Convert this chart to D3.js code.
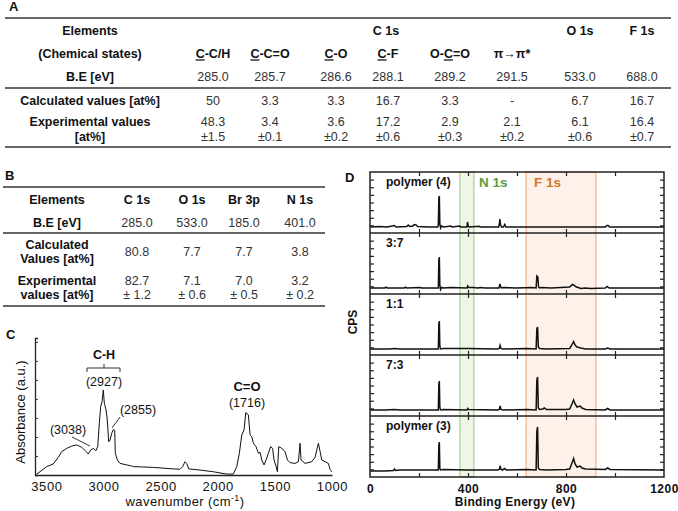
<html>
<head>
<script src="https://d3js.org/d3.v7.min.js"></script>
<style>
  body { margin: 0; background: #fff; }
  svg text { font-family: "Liberation Sans", Arial, sans-serif; fill: #111; }
  .hd { font-weight: bold; }
  .val { fill: #333; }
  .rule { stroke: #666; stroke-width: 1.8; }
</style>
</head>
<body>
<svg id="fig" width="678" height="511"></svg>
<script>
// ---------- table A data ----------
const elementsA = ["C 1s", "O 1s", "F 1s"];
const statesA = ["[C]-C/H", "[C]-C=O", "[C]-O", "[C]-F", "O-[C]=O", "π→π*", "", ""];
const beA = ["285.0", "285.7", "286.6", "288.1", "289.2", "291.5", "533.0", "688.0"];
const calcA = ["50", "3.3", "3.3", "16.7", "3.3", "-", "6.7", "16.7"];
const expA = ["48.3", "3.4", "3.6", "17.2", "2.9", "2.1", "6.1", "16.4"];
const errA = ["1.5", "0.1", "0.2", "0.6", "0.3", "0.2", "0.6", "0.7"];

// ---------- table B data ----------
const elementsB = ["C 1s", "O 1s", "Br 3p", "N 1s"];
const beB = ["285.0", "533.0", "185.0", "401.0"];
const calcB = ["80.8", "7.7", "7.7", "3.8"];
const expB = ["82.7", "7.1", "7.0", "3.2"];
const errB = ["1.2", "0.6", "0.5", "0.2"];

// ---------- FTIR (C) ----------
const irWavenumber = [3585, 3556, 3498, 3440, 3396, 3366, 3322, 3279, 3235, 3191, 3153, 3133, 3112, 3089, 3066, 3051,
  3037, 3025, 3013, 3002, 2993, 2978, 2967, 2955, 2943, 2929, 2914, 2902, 2897, 2879, 2856, 2797, 2753, 2739,
  2564, 2389, 2330, 2307, 2287, 2272, 2254, 2155, 2039, 1922, 1864, 1834, 1811, 1790, 1770, 1755, 1732, 1717,
  1703, 1688, 1665, 1644, 1630, 1615, 1595, 1577, 1557, 1537, 1520, 1508, 1490, 1478, 1466, 1440, 1411, 1390,
  1367, 1323, 1294, 1280, 1271, 1236, 1177, 1148, 1133, 1119, 1104, 1090, 1061, 1032, 1017, 1003];
const irAbsorbance = [0.05, 0.17, 0.44, 0.58, 0.93, 1.23, 1.40, 1.52, 1.58, 1.46, 1.23, 1.10, 1.32, 1.40, 1.28, 1.49,
  2.72, 3.60, 3.86, 4.47, 3.77, 3.42, 2.89, 1.75, 1.84, 2.19, 2.40, 2.35, 1.14, 0.79, 0.61, 0.53, 0.47, 0.44,
  0.40, 0.32, 0.30, 0.44, 0.70, 0.61, 0.32, 0.26, 0.17, 0.05, 0.05, 0.44, 1.14, 2.10, 2.37, 3.28, 3.16, 2.10,
  2.02, 1.67, 1.49, 1.14, 1.20, 0.79, 0.53, 0.79, 1.14, 1.49, 1.40, 0.79, 0.47, 0.17, 1.49, 1.40, 1.23, 0.79,
  0.65, 0.61, 0.70, 1.67, 0.79, 0.61, 0.70, 0.93, 1.32, 1.67, 1.23, 0.79, 0.70, 0.61, 0.30, 0.17];
const irTicks = [3500, 3000, 2500, 2000, 1500, 1000];

// ---------- XPS survey (D) ----------
const xpsLabels = ["polymer (4)", "3:7", "1:1", "7:3", "polymer (3)"];
const spec4 = [[0, 0], [40, 0.5], [70, 0], [100, 1.5], [106, 0], [150, 0.5], [156, 2], [162, 0.5], [175, 1], [180, 2.5],
  [188, 2], [195, 0.5], [240, 0], [276, 0], [279, 2], [281, 29], [283, 31], [285, 3], [288, -1], [292, 1], [300, 0],
  [330, 1], [335, 0], [366, 1], [370, 0], [396, 0], [398, 5], [401, 1], [404, 0], [445, 0.8], [450, 0], [525, 0],
  [528, 3], [530, 8], [533, 2], [537, 0], [545, 0], [550, 2.5], [555, 0], [600, 0], [960, 0], [967, 1.5], [972, 1.5],
  [978, 0], [1200, 0]];
const spec37 = [[0, 0], [60, 0], [65, 0.8], [70, 0], [140, 0], [145, 0.8], [150, 0], [205, 0.5], [210, 0], [279, 0],
  [281, 28], [283, 31], [285, 3], [288, -1.5], [292, 0.5], [300, 0], [330, 0.5], [396, 0], [399, 2], [402, 0.5],
  [420, 0.5], [440, 0], [450, 0.5], [470, 0], [527, 0], [530, 4], [533, 1.5], [537, 0], [545, 0.5], [600, 0],
  [660, 0.5], [678, 0], [681, 12], [685, 11], [688, 1], [692, 0], [700, 0.5], [740, 0], [815, 1], [826, 3.5],
  [834, 2.5], [842, 1], [850, 0.5], [860, -0.5], [880, 0], [900, -0.5], [960, 0], [968, 1.5], [976, 0], [1200, 0]];
const spec11 = [[0, 0], [80, 0], [100, 0.5], [120, 0], [279, 0], [281, 25], [283, 28], [285, 3], [288, 0], [300, 0.5],
  [400, 0.5], [520, 0], [528, 0.5], [531, 3.5], [534, 1], [540, 0], [640, 0.5], [678, 0], [681, 20], [684, 22],
  [687, 2], [692, 0.5], [720, 0], [815, 0.5], [826, 5], [831, 7.5], [837, 4], [845, 2], [860, 1], [880, 0],
  [960, 0], [970, 1], [980, 0], [1200, 0]];
const spec73 = [[0, 0], [60, 0], [100, 0.5], [120, 0], [279, 0], [281, 26], [283, 29], [285, 3], [288, 0], [300, 0.5],
  [396, 0], [399, 1.5], [402, 0.5], [520, 0], [528, 0.5], [531, 4], [534, 1], [540, 0], [640, 0.5], [678, 0],
  [681, 30], [684, 33], [687, 2], [692, 0.5], [705, 1], [712, 2], [720, 0.5], [800, 0.5], [815, 1], [826, 7],
  [831, 10], [837, 6], [845, 3], [852, 3.5], [858, 4], [865, 2], [880, 0.5], [960, 0], [970, 1.5], [980, 0], [1200, 0]];
const spec3 = [[0, 0], [60, 0], [96, 0.5], [100, 2], [104, 0.5], [120, 1], [200, 1], [279, 1], [281, 26], [283, 29],
  [285, 3], [288, 1], [300, 1.5], [400, 1], [520, 1], [528, 1.5], [531, 5], [534, 2], [540, 1], [550, 2.5], [556, 1],
  [640, 1.5], [678, 1], [681, 40], [684, 44], [687, 3], [692, 1.5], [720, 1], [800, 1.5], [815, 2], [826, 9],
  [831, 12.5], [837, 7], [845, 4], [852, 4.5], [858, 5], [865, 3], [880, 2], [960, 1.5], [970, 3], [980, 1.5], [1200, 1]];
const xpsSpectra = [spec4, spec37, spec11, spec73, spec3];
const xpsBands = [{ name: "N 1s", from: 367, to: 424, fill: "#eef6e6", stroke: "#a9d08e", text: "#5b9b3c" },
                  { name: "F 1s", from: 637, to: 922, fill: "#fdf1ea", stroke: "#f4b183", text: "#d2762c" }];

const svg = d3.select("#fig");

// ================= TABLE A =================
const colA = [213, 270, 336, 388, 450, 512, 580, 642];
const labA = 90;
const gA = svg.append("g").style("font-size", "12.5px");
gA.append("text").attr("class", "hd").attr("x", 9).attr("y", 11).style("font-size", "13px").text("A");
[18, 88, 147].forEach(y => gA.append("line").attr("class", "rule").attr("x1", 5).attr("x2", 671).attr("y1", y).attr("y2", y));

function rowLabel(g, x, y, txt) {
  g.append("text").attr("class", "hd").attr("x", x).attr("y", y).attr("dy", "0.35em")
    .attr("text-anchor", "middle").text(txt);
}
function rowVals(g, cols, y, vals, cls, prefix) {
  g.selectAll(null).data(vals).join("text")
    .attr("class", cls).attr("x", (d, i) => cols[i]).attr("y", y).attr("dy", "0.35em")
    .attr("text-anchor", "middle").text(d => (prefix || "") + d);
}

rowLabel(gA, labA, 31, "Elements");
gA.append("text").attr("class", "hd").attr("x", 386).attr("y", 31).attr("dy", "0.35em")
  .attr("text-anchor", "middle").text(elementsA[0]);
rowVals(gA, colA.slice(6), 31, elementsA.slice(1), "hd");

rowLabel(gA, labA, 54, "(Chemical states)");
statesA.forEach((s, i) => {
  if (!s) return;
  const t = gA.append("text").attr("class", "hd").attr("x", colA[i]).attr("y", 54).attr("dy", "0.35em")
    .attr("text-anchor", "middle");
  s.split(/(\[C\])/).filter(p => p).forEach(p => {
    const sp = t.append("tspan").text(p.replace(/[\[\]]/g, ""));
    if (p === "[C]") sp.style("text-decoration", "underline");
  });
});

rowLabel(gA, labA, 77, "B.E [eV]");
rowVals(gA, colA, 77, beA, "val");
rowLabel(gA, labA, 101, "Calculated values [at%]");
rowVals(gA, colA, 101, calcA, "val");
rowLabel(gA, labA, 122, "Experimental values");
rowLabel(gA, labA, 137, "[at%]");
rowVals(gA, colA, 122, expA, "val");
rowVals(gA, colA, 137, errA, "val", "±");

// ================= TABLE B =================
const colB = [137, 192, 244, 300];
const labB = 57;
const gB = svg.append("g").style("font-size", "12.5px");
gB.append("text").attr("class", "hd").attr("x", 5).attr("y", 180).style("font-size", "13px").text("B");
[187, 233, 306].forEach(y => gB.append("line").attr("class", "rule").attr("x1", 3).attr("x2", 325).attr("y1", y).attr("y2", y));
rowLabel(gB, labB, 200, "Elements");
rowVals(gB, colB, 200, elementsB, "hd");
rowLabel(gB, labB, 223, "B.E [eV]");
rowVals(gB, colB, 223, beB, "val");
rowLabel(gB, labB, 245, "Calculated");
rowLabel(gB, labB, 259, "Values [at%]");
rowVals(gB, colB, 252, calcB, "val");
rowLabel(gB, labB, 281, "Experimental");
rowLabel(gB, labB, 295, "values [at%]");
rowVals(gB, colB, 281, expB, "val");
rowVals(gB, colB, 295, errB, "val", "± ");

// ================= FTIR (C) =================
const gC = svg.append("g");
gC.append("text").attr("class", "hd").attr("x", 6).attr("y", 339).style("font-size", "13px").text("C");
const xIR = d3.scaleLinear().domain([3600, 1000]).range([35, 332]);
const yIR = d3.scaleLinear().domain([0, 7.2]).range([475, 338]);

gC.append("g").attr("transform", "translate(0,475)")
  .call(d3.axisBottom(xIR).tickValues(irTicks).tickSize(0).tickPadding(7).tickFormat(d3.format("d")))
  .call(g => g.select(".domain").attr("stroke", "#222").attr("stroke-width", 1.3))
  .call(g => g.selectAll("text").style("font-size", "13px").style("letter-spacing", "0.6px").attr("fill", "#111"));
gC.append("g").attr("transform", "translate(35,0)")
  .call(d3.axisLeft(yIR).tickValues(d3.range(1, 8)).tickSize(-3).tickFormat(""))
  .call(g => g.select(".domain").attr("stroke", "#222").attr("stroke-width", 1.3))
  .call(g => g.selectAll(".tick line").attr("stroke", "#333"));

const irLine = d3.line().x(d => xIR(d[0])).y(d => yIR(d[1]));
gC.append("path").datum(d3.zip(irWavenumber, irAbsorbance))
  .attr("d", irLine).attr("fill", "none").attr("stroke", "#111").attr("stroke-width", 1);

gC.append("text").attr("x", 185).attr("y", 506).attr("text-anchor", "middle").style("font-size", "13px")
  .style("letter-spacing", "0.4px")
  .html('wavenumber (cm<tspan dy="-5" font-size="9px">-1</tspan><tspan dy="5">)</tspan>');
gC.append("text").attr("transform", "translate(25,412) rotate(-90)").attr("text-anchor", "middle")
  .style("font-size", "13px").text("Absorbance (a.u.)");

// annotations
const ann = gC.append("g").style("font-size", "12.5px");
ann.append("text").attr("class", "hd").attr("x", 104).attr("y", 359).attr("text-anchor", "middle").text("C-H");
ann.append("path").attr("d", "M87,372V368H120V372M104,368V364").attr("fill", "none").attr("stroke", "#333");
ann.append("text").attr("x", 104).attr("y", 386).attr("text-anchor", "middle").attr("fill", "#333").text("(2927)");
ann.append("text").attr("x", 138).attr("y", 414).attr("text-anchor", "middle").attr("fill", "#333").text("(2855)");
ann.append("line").attr("x1", 120).attr("y1", 417).attr("x2", 112).attr("y2", 428).attr("stroke", "#333");
ann.append("text").attr("x", 68).attr("y", 434).attr("text-anchor", "middle").attr("fill", "#333").text("(3038)");
ann.append("line").attr("x1", 72).attr("y1", 437).attr("x2", 90).attr("y2", 446).attr("stroke", "#333");
ann.append("text").attr("class", "hd").attr("x", 247).attr("y", 391).attr("text-anchor", "middle").style("font-size", "13px").text("C=O");
ann.append("text").attr("x", 247).attr("y", 407).attr("text-anchor", "middle").attr("fill", "#333").text("(1716)");

// ================= XPS (D) =================
const gD = svg.append("g");
gD.append("text").attr("class", "hd").attr("x", 345).attr("y", 182).style("font-size", "13px").text("D");
const dTop = 172, dBot = 477, dL = 370, dR = 664;
const ph = (dBot - dTop) / xpsSpectra.length;
const xBE = d3.scaleLinear().domain([0, 1200]).range([dL, dR]);

xpsBands.forEach((b, k) => {
  gD.append("rect").attr("x", xBE(b.from)).attr("width", xBE(b.to) - xBE(b.from))
    .attr("y", dTop).attr("height", dBot - dTop).attr("fill", b.fill).attr("stroke", b.stroke).attr("stroke-width", 1.2);
  gD.append("text").attr("class", "hd").attr("x", k === 0 ? xBE(b.to) + 5 : xBE(b.from) + 8).attr("y", 187)
    .style("font-size", "13.5px").style("fill", b.text).text(b.name);
});

xpsSpectra.forEach((spec, i) => {
  const top = dTop + i * ph, bot = top + ph;
  const y = d3.scaleLinear().domain([-6, ph - 6]).range([bot, top]);
  const yt = d3.scaleLinear().domain([0, 8]).range([bot, top]);
  const p = gD.append("g");
  p.append("g").attr("transform", `translate(0,${bot})`)
    .call(d3.axisTop(xBE).tickValues(d3.range(200, 1200, 200)).tickSize(4).tickFormat(""));
  p.append("g").attr("transform", `translate(0,${top})`)
    .call(d3.axisBottom(xBE).tickValues(d3.range(200, 1200, 200)).tickSize(4).tickFormat(""));
  p.append("g").attr("transform", `translate(${dL},0)`)
    .call(d3.axisRight(yt).tickValues(d3.range(1, 8)).tickSize(4).tickFormat(""));
  p.append("g").attr("transform", `translate(${dR},0)`)
    .call(d3.axisLeft(yt).tickValues(d3.range(1, 8)).tickSize(4).tickFormat(""));
  p.selectAll(".domain").remove();
  p.selectAll(".tick line").attr("stroke", "#222").attr("stroke-width", 1.2);
  p.append("path").datum(spec)
    .attr("d", d3.line().x(d => xBE(d[0])).y(d => y(d[1])))
    .attr("fill", "none").attr("stroke", "#111").attr("stroke-width", 1.5);
  p.append("text").attr("class", "hd").attr("x", 386).attr("y", top + 14)
    .style("font-size", "12px").text(xpsLabels[i]);
  if (i > 0) p.append("line").attr("x1", dL).attr("x2", dR).attr("y1", top).attr("y2", top)
    .attr("stroke", "#222").attr("stroke-width", 1.5);
});
gD.append("rect").attr("x", dL).attr("y", dTop).attr("width", dR - dL).attr("height", dBot - dTop)
  .attr("fill", "none").attr("stroke", "#222").attr("stroke-width", 1.5);

gD.append("g").attr("transform", `translate(0,${dBot})`)
  .call(d3.axisBottom(xBE).tickValues([0, 400, 800, 1200]).tickSize(0).tickPadding(7).tickFormat(d3.format("d")))
  .call(g => g.select(".domain").remove())
  .call(g => g.selectAll("text").style("font-size", "12px").style("font-weight", "bold").style("letter-spacing", "0.5px"));
gD.append("text").attr("class", "hd").attr("x", 515).attr("y", 506).attr("text-anchor", "middle")
  .style("font-size", "12px").style("letter-spacing", "0.3px").text("Binding Energy (eV)");
gD.append("text").attr("class", "hd").attr("transform", "translate(357,322) rotate(-90)").attr("text-anchor", "middle")
  .style("font-size", "12px").text("CPS");
</script>
</body>
</html>
